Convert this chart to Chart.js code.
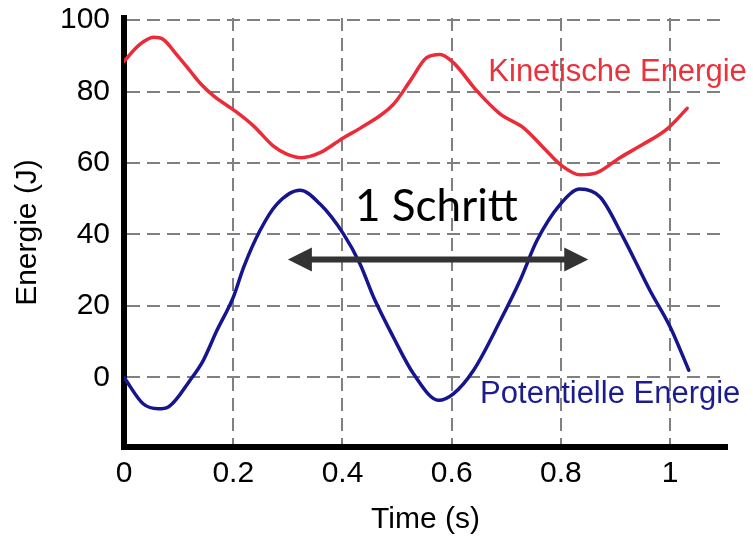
<!DOCTYPE html>
<html>
<head>
<meta charset="utf-8">
<script src="https://cdn.jsdelivr.net/npm/chart.js@4/dist/chart.umd.min.js"></script>
<style>
  html, body { margin: 0; padding: 0; background: #fff; }
  #wrap { width: 753px; height: 540px; }
</style>
</head>
<body>
<div id="wrap"><canvas id="energyChart"></canvas></div>
<script>
// values
const kinTime = [0, 0.029, 0.054, 0.072, 0.096, 0.121, 0.139, 0.164, 0.203, 0.237, 0.273, 0.298, 0.325, 0.359, 0.402, 0.432, 0.493, 0.524, 0.554, 0.579, 0.603, 0.646, 0.689, 0.731, 0.768, 0.802, 0.835, 0.866, 0.908, 0.951, 0.994, 1.031];
const kinetic = [88.5, 93.2, 95.2, 94.6, 90.4, 85.8, 82.4, 78.8, 74.6, 70.4, 64.8, 62.5, 61.5, 62.9, 67.1, 69.7, 76.4, 83, 89.5, 90.4, 88.1, 80.2, 73.7, 69.9, 64.3, 59.2, 56.7, 57.3, 61.5, 65.3, 69.5, 75.3];

const potTime = [0, 0.035, 0.063, 0.081, 0.121, 0.145, 0.17, 0.2, 0.219, 0.249, 0.28, 0.322, 0.359, 0.402, 0.432, 0.457, 0.493, 0.53, 0.576, 0.603, 0.64, 0.689, 0.725, 0.756, 0.799, 0.835, 0.872, 0.914, 0.963, 1.0, 1.034];
const potential = [0, -7.4, -8.8, -8.3, -0.8, 4.7, 13.1, 22.4, 30.8, 41.1, 48.5, 52.4, 48.5, 40.1, 31.8, 22.4, 11.3, 1, -6.4, -4.6, 2, 15.9, 27.1, 38.3, 48.5, 52.7, 50.4, 39.2, 24.3, 14.1, 2];

const xTicks = [0, 0.2, 0.4, 0.6, 0.8, 1];
const yTicks = [0, 20, 40, 60, 80, 100];

const labelFont = '"Liberation Sans", Arial, sans-serif';

// labels and the step arrow, placed in data units (text y = baseline)
const notes = [
    { text: 'Kinetische Energie', x: 0.667, y: 83, color: '#e8323c', font: '31px ' + labelFont },
    { text: 'Potentielle Energie', x: 0.652, y: -7.3, color: '#1c1c8c', font: '31px ' + labelFont },
    { text: '1 Schritt', x: 0.423, y: 43.9, color: '#000', font: '44px Lato, "Open Sans", sans-serif' }
];
const stepArrow = { from: 0.30, to: 0.85, y: 33 };

function toPoints(xs, ys) {
    return xs.map((x, i) => ({ x: x, y: ys[i] }));
}

const notesPlugin = {
    id: 'notes',
    afterDatasetsDraw(chart) {
        const ctx = chart.ctx;
        const xs = chart.scales.x;
        const ys = chart.scales.y;
        ctx.save();
        ctx.textBaseline = 'alphabetic';
        ctx.textAlign = 'left';
        notes.forEach(n => {
            ctx.font = n.font;
            ctx.fillStyle = n.color;
            ctx.fillText(n.text, xs.getPixelForValue(n.x), ys.getPixelForValue(n.y));
        });

        // double headed arrow
        const x1 = xs.getPixelForValue(stepArrow.from);
        const x2 = xs.getPixelForValue(stepArrow.to);
        const y = ys.getPixelForValue(stepArrow.y);
        const head = 24, half = 12;
        ctx.strokeStyle = '#333';
        ctx.fillStyle = '#333';
        ctx.lineWidth = 6;
        ctx.beginPath();
        ctx.moveTo(x1 + head - 4, y);
        ctx.lineTo(x2 - head + 4, y);
        ctx.stroke();
        ctx.beginPath();
        ctx.moveTo(x1, y);
        ctx.lineTo(x1 + head, y - half);
        ctx.lineTo(x1 + head, y + half);
        ctx.closePath();
        ctx.fill();
        ctx.beginPath();
        ctx.moveTo(x2, y);
        ctx.lineTo(x2 - head, y - half);
        ctx.lineTo(x2 - head, y + half);
        ctx.closePath();
        ctx.fill();
        ctx.restore();
    }
};

const chart = new Chart(document.getElementById('energyChart'), {
    type: 'line',
    data: {
        datasets: [{
            label: 'Kinetische Energie',
            data: toPoints(kinTime, kinetic),
            borderColor: '#ec2b38',
            borderWidth: 3.5,
            pointRadius: 0,
            cubicInterpolationMode: 'monotone',
            borderCapStyle: 'round'
        }, {
            label: 'Potentielle Energie',
            data: toPoints(potTime, potential),
            borderColor: '#15158f',
            borderWidth: 3.5,
            pointRadius: 0,
            cubicInterpolationMode: 'monotone',
            borderCapStyle: 'round'
        }]
    },
    options: {
        responsive: true,
        maintainAspectRatio: false,
        animation: false,
        layout: { padding: { top: 0, right: 26, left: 0, bottom: 0 } },
        plugins: {
            legend: { display: false },
            tooltip: { enabled: false }
        },
        scales: {
            x: {
                type: 'linear',
                min: 0,
                max: 1.104,
                afterBuildTicks: s => { s.ticks = xTicks.map(v => ({ value: v })); },
                afterFit: s => {
                    s.height = 93;
                    s.paddingLeft = 0;
                    s.paddingRight = 0;
                },
                grid: { color: '#808080', lineWidth: 2, drawTicks: false },
                border: { display: true, color: '#000', width: 6, dash: [13, 7] },
                ticks: {
                    color: '#000',
                    padding: 9,
                    font: { family: labelFont, size: 30 },
                    callback: v => String(v)
                },
                title: {
                    display: true,
                    text: 'Time (s)',
                    color: '#000',
                    font: { family: labelFont, size: 30 },
                    padding: { top: 4, bottom: 2 }
                }
            },
            y: {
                min: -19.5,
                max: 100.6,
                afterBuildTicks: s => { s.ticks = yTicks.map(v => ({ value: v })); },
                afterFit: s => {
                    s.width = 124;
                    s.paddingTop = 18;
                    s.paddingBottom = 0;
                },
                grid: { color: '#808080', lineWidth: 2, drawTicks: false },
                border: { display: true, color: '#000', width: 6, dash: [13, 7] },
                ticks: {
                    color: '#000',
                    padding: 14,
                    font: { family: labelFont, size: 30 }
                },
                title: {
                    display: true,
                    text: 'Energie (J)',
                    color: '#000',
                    font: { family: labelFont, size: 30 },
                    padding: { top: 10, bottom: 4 }
                }
            }
        }
    },
    plugins: [notesPlugin]
});
</script>
</body>
</html>
